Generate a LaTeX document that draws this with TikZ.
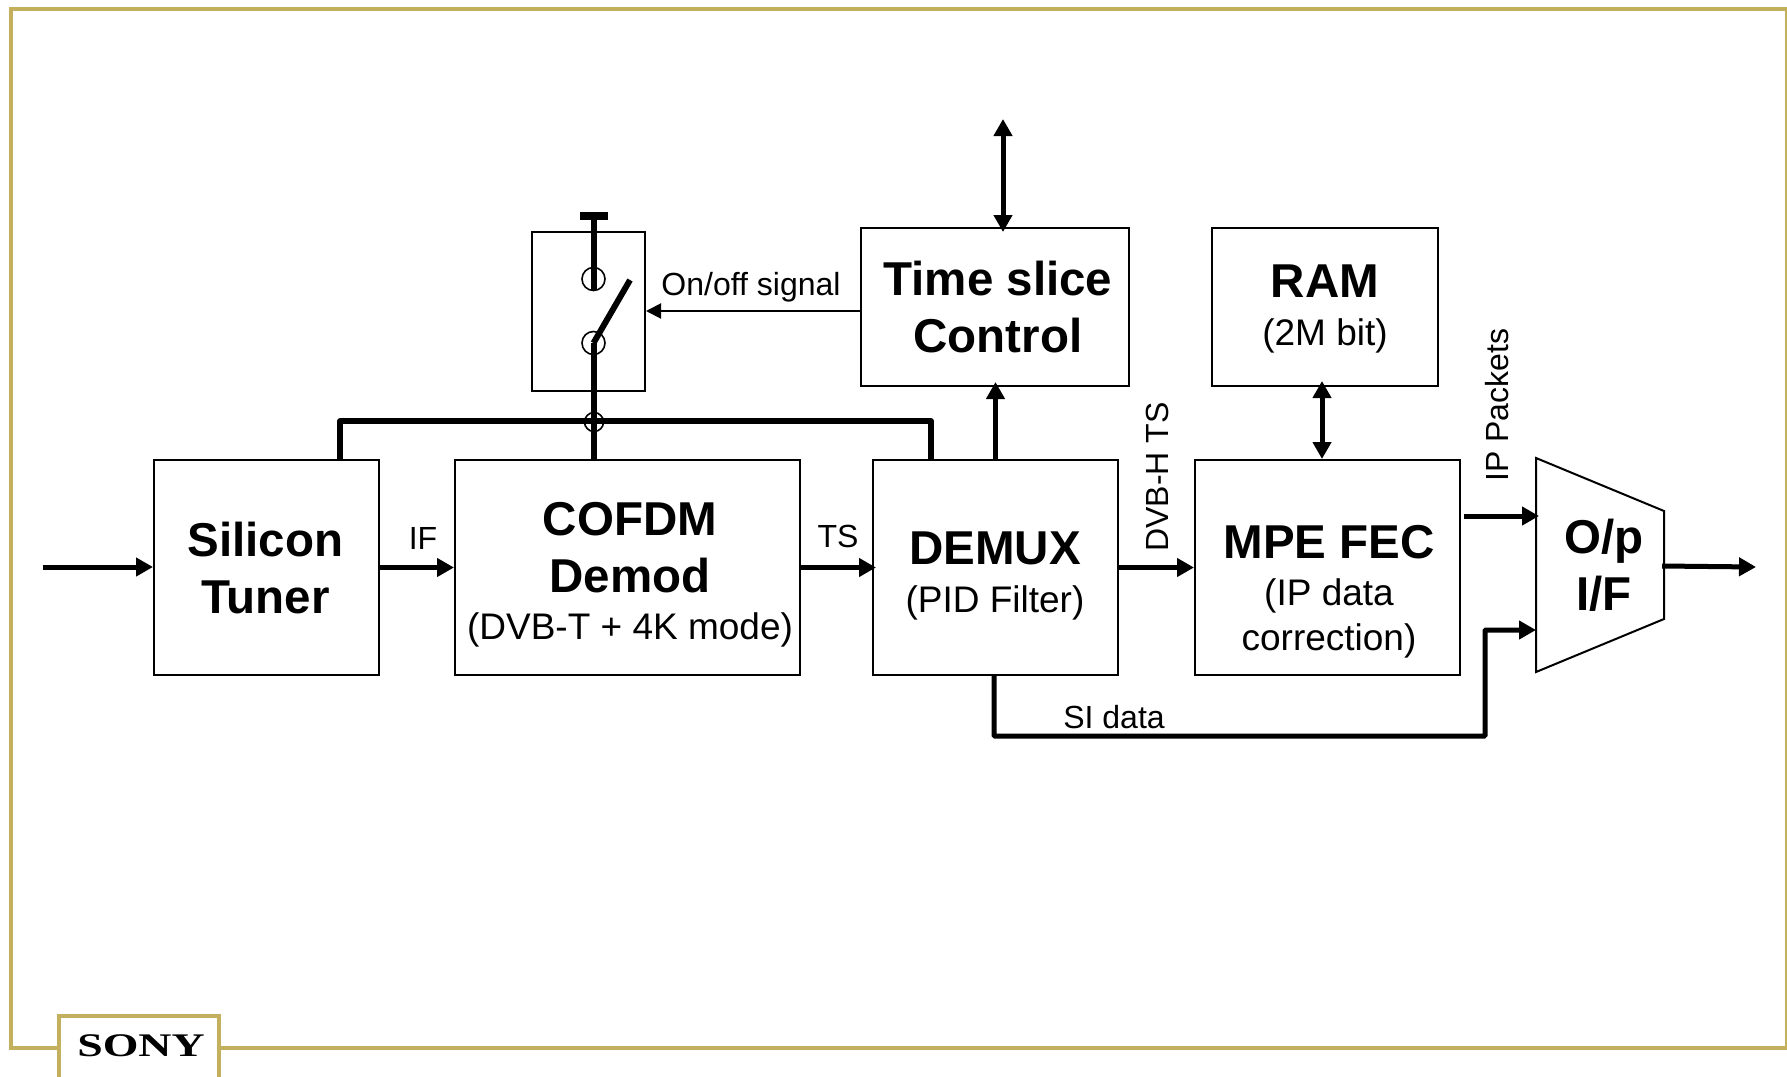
\documentclass[tikz,border=0pt]{standalone}
\usepackage{fontspec}
\setmainfont{Liberation Sans}
\newfontfamily\sonyfont[FakeStretch=1.39]{Liberation Serif}
\usetikzlibrary{arrows.meta}
\definecolor{framegold}{RGB}{196,176,92}
\newcommand{\subline}[1]{{\mdseries\fontsize{37}{44}\selectfont #1}}
\tikzset{
  blockbox/.style={draw,line width=2pt,minimum width=#1},
  blocktext/.style={align=center,font=\fontsize{47.5}{57}\selectfont\bfseries},
  sigtext/.style={font=\fontsize{32}{38}\selectfont},
  thickarr/.style={line width=5pt,-{Triangle[length=17pt,width=18pt]}},
  twoarr/.style={line width=5pt,{Triangle[length=17pt,width=18pt]}-{Triangle[length=17pt,width=18pt]}},
  thinarr/.style={line width=2pt,-{Triangle[length=15pt,width=15pt]}},
  wire/.style={line width=5.5pt},
  goldline/.style={draw=framegold,line width=4pt}
}

\begin{document}
\begin{tikzpicture}[x=1pt,y=-1pt]
  \useasboundingbox (0,0) rectangle (1787,1076);
  \fill[white] (0,0) rectangle (1787,1076);
  % frame and logo
  \draw[goldline] (11,9) rectangle (1787,1048);
  \node[goldline,fill=white,minimum width=160pt,minimum height=120pt] (logobox) at (139,1076) {};
  \node[font=\sonyfont\fontsize{33}{33}\selectfont\bfseries] (logo) at (141,1046) {SONY};

  % blocks
  \node[blockbox=225pt,minimum height=215pt] (tuner) at (266.5,567.5) {};
  \node[blockbox=345pt,minimum height=215pt] (cofdm) at (627.5,567.5) {};
  \node[blockbox=245pt,minimum height=215pt] (demux) at (995.5,567.5) {};
  \node[blockbox=265pt,minimum height=215pt] (mpe) at (1327.5,567.5) {};
  \node[blockbox=268pt,minimum height=158pt] (tslice) at (995,307) {};
  \node[blockbox=226pt,minimum height=158pt] (ram) at (1324.5,307) {};
  \node[blockbox=113pt,minimum height=159pt] (switch) at (588.5,311.5) {};

  \node[blocktext] (tunertxt) at (265.5,568) {Silicon\\Tuner};
  \node[blocktext] (cofdmtxt) at (630,575) {COFDM\\Demod\\[-10pt]\subline{(DVB-T + 4K mode)}};
  \node[blocktext] (demuxtxt) at (995,576) {DEMUX\\[-8.5pt]\subline{(PID Filter)}};
  \node[blocktext] (mpetxt) at (1329,592) {MPE FEC\\[-10pt]\subline{(IP data}\\[-12pt]\subline{correction)}};
  \node[blocktext] (tslicetxt) at (998,307) {Time slice\\Control};
  \node[blocktext] (ramtxt) at (1325,309) {RAM\\[-8.5pt]\subline{(2M bit)}};

  % output block
  \coordinate (opnw) at (1536,458);
  \coordinate (opne) at (1664,511);
  \coordinate (opse) at (1664,619);
  \coordinate (opsw) at (1536,672);
  \draw[line width=2pt] (opnw) -- (opne) -- (opse) -- (opsw) -- cycle;
  \node[blocktext] (optxt) at (1604,565) {O/p\\I/F};

  % switch inside
  \coordinate (swtop) at (594,216);
  \node[circle,draw,line width=1.6pt,minimum size=23pt,inner sep=0pt] (swa) at (593.5,279) {};
  \node[circle,draw,line width=1.6pt,minimum size=23pt,inner sep=0pt] (swb) at (593.5,343) {};
  \node[circle,draw,line width=1.6pt,minimum size=19pt,inner sep=0pt] (swc) at (594,422) {};
  \coordinate (swarm) at (630,280);
  \draw[line width=8pt] (580,216) -- (608,216);
  \draw[line width=6pt] (swtop) -- (swtop |- 0,290);
  \draw[line width=6pt] (swb.center) -- (swarm);
  \draw[line width=6pt] (594,343) -- (594,460);

  % bus
  \coordinate (busa) at (340,421);
  \coordinate (busb) at (931,421);
  \draw[wire,line join=round] (busa |- tuner.north) -- (busa) -- (busb) -- (busb |- demux.north);

  % signals
  \coordinate (rfin) at (43,567);
  \coordinate (opout) at (1756,567);
  \coordinate (tsio) at (1003,119);
  \coordinate (tsend) at (1003,232);
  \coordinate (ramio) at (1322,381);
  \coordinate (ipstart) at (1464,516);
  \coordinate (ipend) at (1539,516);
  \coordinate (sidown) at (994,675);
  \coordinate (siend) at (1536,630);
  \draw[thickarr] (rfin) -- (tuner.west |- rfin);
  \draw[thickarr] (tuner.east) -- (cofdm.west);
  \draw[thickarr] (cofdm.east) -- ([xshift=4pt]demux.west);
  \draw[thickarr] (demux.north) -- ([yshift=5pt]demux.north |- tslice.south);
  \draw[thickarr] (demux.east) -- (mpe.west);
  \draw[twoarr] (tsio) -- (tsend);
  \draw[twoarr] (ramio) -- (ramio |- mpe.north);
  \draw[thickarr] (ipstart) -- (ipend);
  \draw[thickarr,rounded corners=1pt] (sidown) -- (994,736) -- (1485,736) -- (1485,630) -- (siend);
  \draw[thickarr] (1662,566) -- (opout);
  \draw[thinarr] (tslice.west |- 0,311) -- (switch.east |- 0,311);

  % labels
  \node[sigtext] (iflab) at (423,538) {IF};
  \node[sigtext] (tslab) at (838,536) {TS};
  \node[sigtext] (onofflab) at (751,287) {On/off signal};
  \node[sigtext] (silab) at (1114,717) {SI data};
  \node[sigtext,rotate=90] (dvblab) at (1157,477) {DVB-H TS};
  \node[sigtext,rotate=90] (iplab) at (1497,405) {IP Packets};
\end{tikzpicture}
\end{document}
